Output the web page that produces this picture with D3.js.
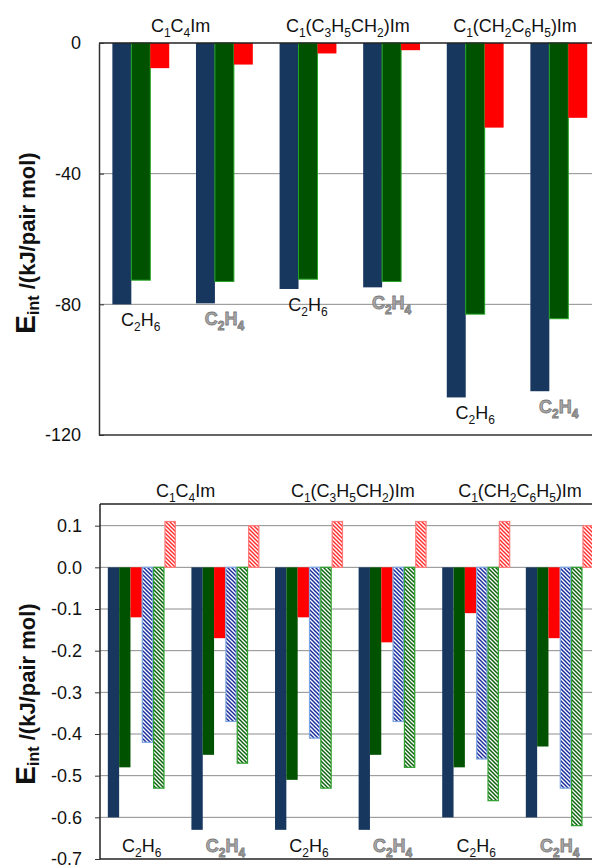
<!DOCTYPE html>
<html>
<head>
<meta charset="utf-8">
<script src="https://cdn.jsdelivr.net/npm/d3@7"></script>
<style>
  html, body { margin: 0; padding: 0; background: #fff; }
  svg { display: block; font-family: "Liberation Sans", Arial, sans-serif; }
</style>
</head>
<body>
<svg id="chart" width="592" height="868"></svg>
<script>
// ---------------- DATA ----------------
const ionicLiquids = ["C_1C_4Im", "C_1(C_3H_5CH_2)Im", "C_1(CH_2C_6H_5)Im"];
const gases = ["C_2H_6", "C_2H_4"];
const groups = ["g1", "g2", "g3", "g4", "g5", "g6"];   // IL x gas
const groupGas = ["C_2H_6", "C_2H_4", "C_2H_6", "C_2H_4", "C_2H_6", "C_2H_4"];

// top panel (kJ/pair mol)
const topNavy  = [-80.0, -79.7, -75.3, -74.8, -108.5, -106.6];
const topGreen = [-72.6, -73.0, -72.3, -73.0, -83.0, -84.4];
const topRed   = [-7.7, -6.6, -3.2, -2.2, -25.9, -22.9];
const topTicks = [0, -40, -80, -120];

// bottom panel
const botNavy       = [-0.60, -0.63, -0.63, -0.63, -0.60, -0.60];
const botGreen      = [-0.48, -0.45, -0.51, -0.45, -0.48, -0.43];
const botRed        = [-0.12, -0.17, -0.12, -0.18, -0.11, -0.17];
const botBlueHatch  = [-0.42, -0.37, -0.41, -0.37, -0.46, -0.53];
const botGreenHatch = [-0.53, -0.47, -0.53, -0.48, -0.56, -0.62];
const botRedHatch   = [0.11, 0.10, 0.11, 0.11, 0.11, 0.10];
const botTicks = [0.1, 0.0, -0.1, -0.2, -0.3, -0.4, -0.5, -0.6, -0.7];

// ---------------- HELPERS ----------------
const svg = d3.select("#chart");

function rich(sel, str, size, subSize) {
  const parts = str.split(/(_\d)/).filter(p => p.length);
  let shifted = false;
  parts.forEach(p => {
    if (p[0] === "_") {
      sel.append("tspan").attr("font-size", subSize).attr("dy", shifted ? 0 : size * 0.28).text(p.slice(1));
      shifted = true;
    } else {
      sel.append("tspan").attr("font-size", size).attr("dy", shifted ? -size * 0.28 : 0).text(p);
      shifted = false;
    }
  });
  return sel;
}

const defs = svg.append("defs");
function hatch(id, color) {
  const p = defs.append("pattern").attr("id", id).attr("patternUnits", "userSpaceOnUse")
    .attr("width", 4).attr("height", 4);
  p.append("rect").attr("width", 4).attr("height", 4).attr("fill", "#fff");
  p.append("path").attr("d", "M-1,-1 L5,5 M-1,3 L1,5 M3,-1 L5,1")
    .attr("stroke", color).attr("stroke-width", 1.5);
}
hatch("hBlue", "#1a2d9c");
hatch("hGreen", "#0d620d");
hatch("hRed", "#ff3030");

const hyph = s => s.replace("\u2212", "-");

function yTitle(cy) {
  const t = svg.append("text")
    .attr("transform", `translate(35,${cy}) rotate(-90)`)
    .attr("text-anchor", "middle").attr("font-weight", "bold").attr("fill", "#111");
  t.append("tspan").attr("font-size", 28).text("E");
  t.append("tspan").attr("font-size", 16).attr("dy", 4).text("int");
  t.append("tspan").attr("font-size", 22).attr("dy", -4).text(" /(kJ/pair mol)");
}

function gasLabel(x, y, str) {
  const bold = str === "C_2H_4";
  const t = svg.append("text").attr("x", x).attr("y", y).attr("text-anchor", "middle");
  if (bold) t.attr("font-weight", "bold").attr("fill", "#a8a8a8").attr("stroke", "#7a7a7a").attr("stroke-width", 0.8);
  else t.attr("fill", "#111");
  rich(t, str, 18, 12);
}

// ---------------- TOP PANEL ----------------
(function () {
  const L = 99, R = 600.6, T = 43, B = 435;
  const x0 = d3.scaleBand().domain(groups).range([L, R]).paddingInner(0.32).paddingOuter(0.16);
  const series = [
    { vals: topNavy, fill: "#17375e", stroke: "none" },
    { vals: topGreen, fill: "#005200", stroke: "#22a322" },
    { vals: topRed, fill: "#ff0000", stroke: "none" }
  ];
  const x1 = d3.scaleBand().domain(d3.range(series.length)).range([0, x0.bandwidth()]).padding(0);
  const y = d3.scaleLinear().domain([-120, 0]).range([B, T]);

  svg.append("g").selectAll("line").data(topTicks.filter(d => d !== 0 && d !== -120)).join("line")
    .attr("x1", L).attr("x2", R).attr("y1", d => y(d)).attr("y2", d => y(d))
    .attr("stroke", "#8c8c8c").attr("stroke-width", 1);

  series.forEach((s, si) => {
    svg.append("g").selectAll("rect").data(s.vals).join("rect")
      .attr("x", (d, i) => x0(groups[i]) + x1(si))
      .attr("width", x1.bandwidth())
      .attr("y", y(0))
      .attr("height", d => y(d) - y(0))
      .attr("fill", s.fill).attr("stroke", s.stroke).attr("stroke-width", 1);
  });

  svg.append("line").attr("x1", L).attr("x2", R).attr("y1", y(0)).attr("y2", y(0)).attr("stroke", "#222").attr("stroke-width", 1.5);
  svg.append("line").attr("x1", L).attr("x2", R).attr("y1", y(-120)).attr("y2", y(-120)).attr("stroke", "#333").attr("stroke-width", 1.5);
  const ax = d3.axisLeft(y).tickValues(topTicks).tickSize(0).tickPadding(18).tickFormat(d => hyph(d3.format("d")(d)));
  const g = svg.append("g").attr("transform", `translate(${L},0)`).call(ax);
  g.select(".domain").attr("stroke", "#333").attr("stroke-width", 1.5);
  g.selectAll("text").attr("font-size", 18).attr("fill", "#111").attr("font-family", "Liberation Sans, Arial, sans-serif");
  g.selectAll(".tick").append("line").attr("x1", 0).attr("x2", 5).attr("stroke", "#333");

  groups.forEach((gname, i) => {
    gasLabel(x0(gname) + x0.bandwidth() / 2, y(topNavy[i]) + 22, groupGas[i]);
  });
  ionicLiquids.forEach((il, k) => {
    const cx = x0(groups[2 * k + 1]) - (x0.step() - x0.bandwidth()) / 2;
    const t = svg.append("text").attr("x", cx - 2).attr("y", 32).attr("text-anchor", "middle").attr("fill", "#111");
    rich(t, il, 18, 12);
  });
  yTitle(243);
})();

// ---------------- BOTTOM PANEL ----------------
(function () {
  const L = 100, R = 601.6, T = 504, B = 859;
  const x0 = d3.scaleBand().domain(groups).range([L, R]).paddingInner(0.187).paddingOuter(0.0935);
  const series = [
    { vals: botNavy, fill: "#17375e", stroke: "none" },
    { vals: botGreen, fill: "#005200", stroke: "none" },
    { vals: botRed, fill: "#ff0000", stroke: "none" },
    { vals: botBlueHatch, fill: "url(#hBlue)", stroke: "#7fa6e0" },
    { vals: botGreenHatch, fill: "url(#hGreen)", stroke: "#2ea02e" },
    { vals: botRedHatch, fill: "url(#hRed)", stroke: "#ff7b7b" }
  ];
  const x1 = d3.scaleBand().domain(d3.range(series.length)).range([0, x0.bandwidth()]).padding(0);
  const y = d3.scaleLinear().domain([-0.7, 0.152]).range([B, T]);

  svg.append("g").selectAll("line").data(botTicks.filter(d => d > -0.7)).join("line")
    .attr("x1", L).attr("x2", R).attr("y1", d => y(d)).attr("y2", d => y(d))
    .attr("stroke", "#8c8c8c").attr("stroke-width", 1);

  series.forEach((s, si) => {
    const hatched = s.stroke !== "none";
    svg.append("g").selectAll("rect").data(s.vals).join("rect")
      .attr("x", (d, i) => x0(groups[i]) + x1(si) + (hatched ? 0.5 : 0))
      .attr("width", x1.bandwidth() - (hatched ? 1 : 0))
      .attr("y", d => y(Math.max(0, d)))
      .attr("height", d => Math.abs(y(d) - y(0)))
      .attr("fill", s.fill).attr("stroke", s.stroke).attr("stroke-width", hatched ? 1.2 : 0);
  });

  svg.append("line").attr("x1", L).attr("x2", R).attr("y1", T).attr("y2", T).attr("stroke", "#222").attr("stroke-width", 1.5);
  svg.append("line").attr("x1", L).attr("x2", R).attr("y1", B).attr("y2", B).attr("stroke", "#222").attr("stroke-width", 1.5);
  const ax = d3.axisLeft(y).tickValues(botTicks).tickSize(5).tickPadding(13).tickFormat(d => hyph(d3.format(".1f")(d)));
  const g = svg.append("g").attr("transform", `translate(${L},0)`).call(ax);
  g.select(".domain").attr("d", `M0,${T}V${B}`).attr("stroke", "#222").attr("stroke-width", 1.5);
  g.selectAll(".tick line").attr("stroke", "#333");
  g.selectAll("text").attr("font-size", 18).attr("fill", "#111").attr("font-family", "Liberation Sans, Arial, sans-serif");

  groups.forEach((gname, i) => {
    gasLabel(x0(gname) + x0.bandwidth() / 2, B - 7, groupGas[i]);
  });
  ionicLiquids.forEach((il, k) => {
    const cx = x0(groups[2 * k + 1]) - (x0.step() - x0.bandwidth()) / 2;
    const t = svg.append("text").attr("x", cx + 2).attr("y", 497).attr("text-anchor", "middle").attr("fill", "#111");
    rich(t, il, 18, 12);
  });
  yTitle(694);
})();
</script>
</body>
</html>
